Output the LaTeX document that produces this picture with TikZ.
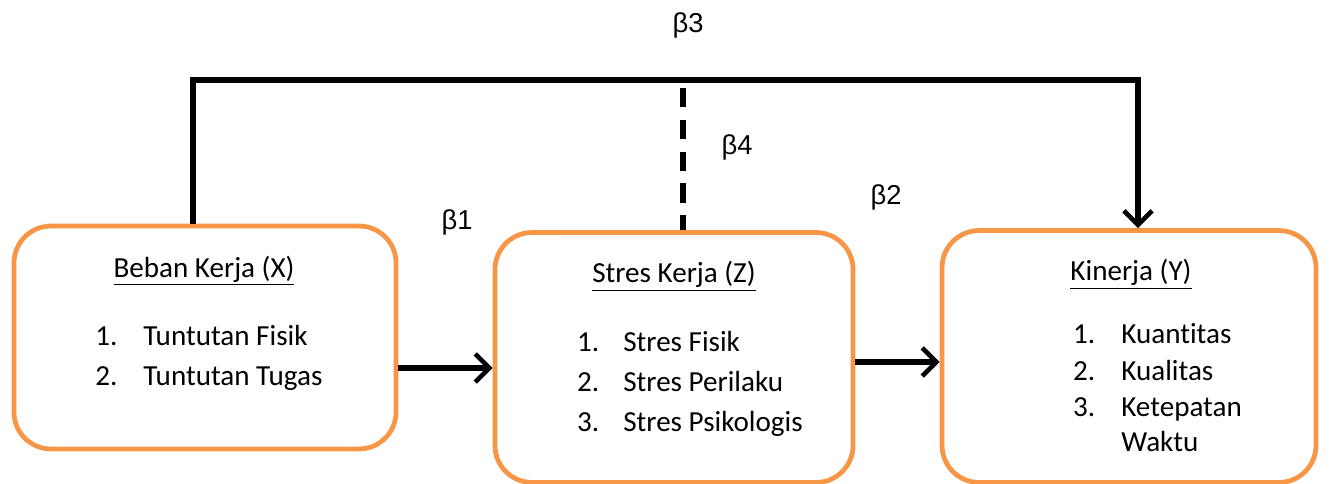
\documentclass[tikz,border=0pt]{standalone}
\usepackage{fontspec}
\setmainfont[Ligatures=NoCommon]{Carlito}
\newfontfamily\betafont{Liberation Sans}
\usetikzlibrary{arrows.meta}
\definecolor{boxorange}{HTML}{F79646}
\tikzset{
  box/.style={draw=boxorange, line width=2.7pt, rounded corners=21pt, fill=white, inner sep=0pt},
  conn/.style={draw=black, line width=3pt, line join=miter},
  arr/.style={conn, -{Straight Barb[length=8pt,width=16pt,line width=2.6pt]}},
  dashconn/.style={draw=black, line width=3pt, dash pattern=on 11pt off 7pt},
  ttl/.style={anchor=base, font=\fontsize{16.5pt}{19pt}\selectfont, inner sep=0pt},
  itm/.style={anchor=base west, font=\fontsize{16.5pt}{19pt}\selectfont, inner sep=0pt},
  beta/.style={font=\betafont\fontsize{15.5pt}{18pt}\selectfont, inner sep=0pt}
}
\begin{document}
\begin{tikzpicture}[x=0.5669pt,y=-0.5669pt]
\useasboundingbox (0,0) rectangle (1330,484);
% boxes
\node[box, minimum width=216.6pt, minimum height=126.4pt] (b1) at (205,337.5) {};
\node[box, minimum width=203pt, minimum height=141.7pt] (b2) at (674,357.5) {};
\node[box, minimum width=212pt, minimum height=142.8pt] (b3) at (1129,356.5) {};
% box 1 text
\node[ttl] (t1) at (204,277) {\underline{Beban Kerja (X)}};
\node[itm] (n11) at (95,345.7) {1.};
\node[itm] (i11) at (143,345.7) {Tuntutan Fisik};
\node[itm] (n12) at (95,385.7) {2.};
\node[itm] (i12) at (143,385.7) {Tuntutan Tugas};
% box 2 text
\node[ttl] (t2) at (674,282.7) {\underline{Stres Kerja (Z)}};
\node[itm] (n21) at (576.7,351.7) {1.};
\node[itm] (i21) at (623,351.7) {Stres Fisik};
\node[itm] (n22) at (576.7,391.7) {2.};
\node[itm] (i22) at (623,391.7) {Stres Perilaku};
\node[itm] (n23) at (576.7,431.7) {3.};
\node[itm] (i23) at (623,431.7) {Stres Psikologis};
% box 3 text
\node[ttl] (t3) at (1131,280.7) {\underline{Kinerja (Y)}};
\node[itm] (n31) at (1072.7,343.3) {1.};
\node[itm] (i31) at (1121,343.3) {Kuantitas};
\node[itm] (n32) at (1072.7,380) {2.};
\node[itm] (i32) at (1121,380) {Kualitas};
\node[itm] (n33) at (1072.7,416.7) {3.};
\node[itm] (i33) at (1121,416.7) {Ketepatan};
\node[itm] (i34) at (1121,451.7) {Waktu};
% beta labels
\node[beta] (be3) at (688,25) {β3};
\node[beta] (be4) at (737,147) {β4};
\node[beta] (be1) at (457,222) {β1};
\node[beta] (be2) at (886,197) {β2};
% connectors
\coordinate (tl) at (193,80);
\coordinate (tr) at (1138,80);
\coordinate (dtop) at (683,88);
\coordinate (r1) at (0,368);
\coordinate (r2) at (0,362);
\draw[arr] (b1.north -| tl) -- (tl) -- (tr) -- (b3.north -| tr);
\draw[dashconn] (dtop) -- (dtop |- b2.north);
\draw[arr] (b1.east |- r1) -- (b2.west |- r1);
\draw[arr] (b2.east |- r2) -- (b3.west |- r2);
\end{tikzpicture}
\end{document}
